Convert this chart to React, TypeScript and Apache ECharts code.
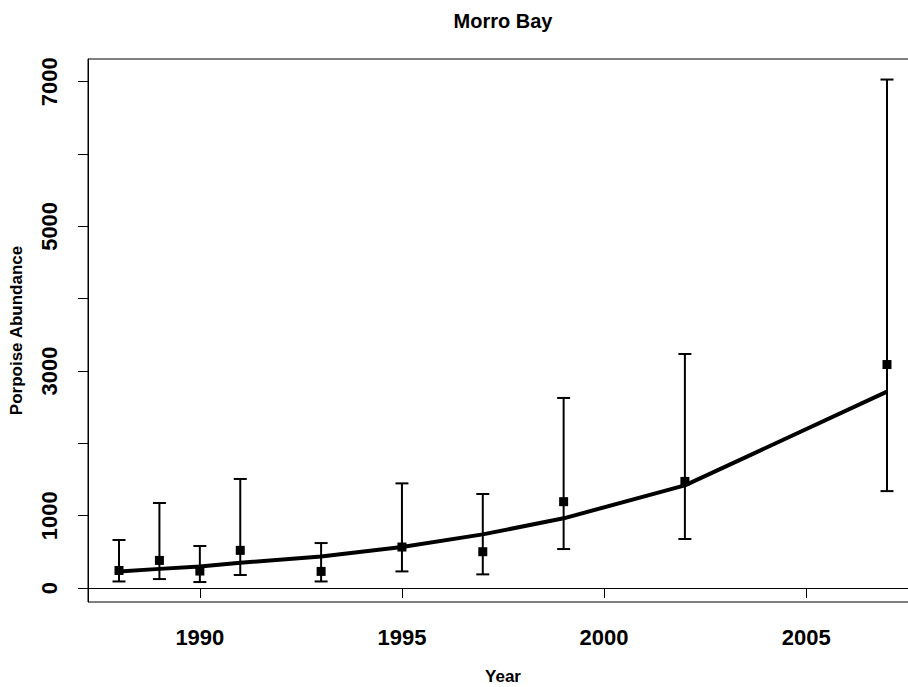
import React, { useEffect, useRef } from "react";
import * as echarts from "echarts";

const years = [1988, 1989, 1990, 1991, 1993, 1995, 1997, 1999, 2002, 2007];
const estimate = [243, 382, 235, 521, 230, 567, 502, 1194, 1474, 3090];
const lower = [91, 124, 83, 180, 91, 230, 189, 539, 678, 1340];
const upper = [664, 1176, 581, 1508, 622, 1447, 1300, 2628, 3236, 7030];
const fitted = [230, 265, 298, 350, 437, 567, 742, 964, 1419, 2715];

const xTicks = [1990, 1995, 2000, 2005];
const yTicks = [0, 1000, 2000, 3000, 4000, 5000, 6000, 7000];
const yLabels = [0, 1000, 3000, 5000, 7000];

export default function App() {
  const ref = useRef<HTMLDivElement>(null);
  useEffect(() => {
    if (!ref.current) return;
    const chart = echarts.init(ref.current, null, { renderer: "svg" });
    const font = "'Liberation Sans', Arial, sans-serif";
    chart.setOption({
      animation: false,
      backgroundColor: "#ffffff",
      title: {
        text: "Morro Bay",
        left: 503,
        top: 11,
        padding: 0,
        textAlign: "center",
        textStyle: { fontFamily: font, fontWeight: "bold", fontSize: 20, color: "#000" },
      },
      grid: {
        left: 88,
        top: 59,
        width: 830,
        bottom: 85,
        outerBoundsMode: "none",
        containLabel: false,
        show: true,
        borderColor: "#000",
        borderWidth: 1,
        backgroundColor: "transparent",
      },
      xAxis: {
        type: "value",
        min: 1987.233,
        max: 2007.767,
        name: "Year",
        nameLocation: "middle",
        nameGap: 66,
        nameTextStyle: { fontFamily: font, fontWeight: "bold", fontSize: 17, color: "#000" },
        axisLine: { show: true, lineStyle: { color: "#000", width: 1 } },
        axisTick: { show: true, inside: false, length: 10, customValues: xTicks, lineStyle: { color: "#000", width: 1 } },
        axisLabel: {
          customValues: xTicks,
          margin: 24,
          fontFamily: font,
          fontWeight: "bold",
          fontSize: 22,
          color: "#000",
          formatter: (v: number) => String(v),
        },
        splitLine: { show: false },
      },
      yAxis: {
        type: "value",
        min: -193,
        max: 7314,
        name: "Porpoise Abundance",
        nameLocation: "middle",
        nameGap: 63,
        nameTextStyle: { fontFamily: font, fontWeight: "bold", fontSize: 17, color: "#000" },
        axisLine: { show: true, lineStyle: { color: "#000", width: 1 } },
        axisTick: { show: true, inside: false, length: 10, customValues: yTicks, lineStyle: { color: "#000", width: 1 } },
        axisLabel: {
          customValues: yLabels,
          rotate: 90,
          margin: 28,
          fontFamily: font,
          fontWeight: "bold",
          fontSize: 22,
          color: "#000",
          formatter: (v: number) => String(v),
        },
        splitLine: { show: false },
      },
      series: [
        {
          type: "custom",
          name: "CI",
          data: years.map((y, i) => [y, lower[i], upper[i]]),
          renderItem: (params: any, api: any) => {
            const x = api.value(0);
            const lo = api.coord([x, api.value(1)]);
            const hi = api.coord([x, api.value(2)]);
            const hw = 6.5;
            const style = { stroke: "#000", lineWidth: 2 };
            return {
              type: "group",
              children: [
                { type: "line", shape: { x1: lo[0], y1: lo[1], x2: hi[0], y2: hi[1] }, style },
                { type: "line", shape: { x1: lo[0] - hw, y1: lo[1], x2: lo[0] + hw, y2: lo[1] }, style },
                { type: "line", shape: { x1: hi[0] - hw, y1: hi[1], x2: hi[0] + hw, y2: hi[1] }, style },
              ],
            };
          },
          encode: { x: 0, y: [1, 2] },
          z: 2,
        },
        {
          type: "line",
          name: "Fitted",
          data: years.map((y, i) => [y, fitted[i]]),
          showSymbol: false,
          lineStyle: { color: "#000", width: 4 },
          z: 3,
        },
        {
          type: "scatter",
          name: "Estimate",
          data: years.map((y, i) => [y, estimate[i]]),
          symbol: "rect",
          symbolSize: 9,
          itemStyle: { color: "#000", opacity: 1 },
          z: 4,
        },
      ],
    });
    return () => chart.dispose();
  }, []);
  return (
    <div
      ref={ref}
      style={{ position: "fixed", left: 0, top: 0, width: 908, height: 687, background: "#fff" }}
    />
  );
}
